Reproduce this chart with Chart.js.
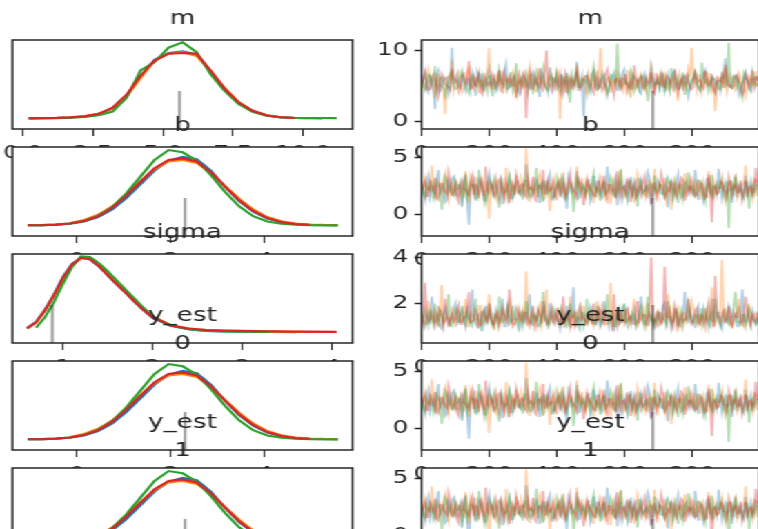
<!DOCTYPE html>
<html>
<head>
<meta charset="utf-8">
<script src="https://cdn.jsdelivr.net/npm/chart.js@4.4.0/dist/chart.umd.min.js"></script>
<style>
html,body{margin:0;padding:0;background:#fff;overflow:hidden;width:758px;height:529px;}
#stage{position:absolute;left:0;top:0;width:560px;height:529px;transform:scaleX(1.38);transform-origin:0 0;}
#stage canvas{position:absolute;}
</style>
</head>
<body>
<div id="stage"></div>
<script>
// ---------------- DATA ----------------
const panelTitles = ['m', 'b', 'sigma', ['y_est', '0'], ['y_est', '1']];

// KDE grids and densities (scaled so the tallest chain peak is 1)
const mKdeX = [0.2,0.7,1.2,1.7,2.2,2.7,3.2,3.7,4.2,4.7,5.2,5.7,6.2,6.7,7.2,7.7,8.2,8.7,9.2,9.7,10.2,10.7,11.2];
const mKdeC0 = [0,0.002,0.005,0.012,0.025,0.057,0.13,0.30,0.55,0.77,0.86,0.88,0.84,0.62,0.39,0.20,0.095,0.037,0.013,0.004,0.001,0,null];
const mKdeC1 = [0.003,0.004,0.007,0.015,0.03,0.06,0.13,0.29,0.53,0.76,0.85,0.87,0.82,0.62,0.40,0.21,0.10,0.04,0.015,0.005,0.002,null,null];
const mKdeC2 = [0,0.001,0.003,0.008,0.018,0.04,0.09,0.27,0.63,0.74,0.93,1.0,0.87,0.58,0.36,0.19,0.085,0.035,0.014,0.008,0.005,0.004,0.003];
const mKdeC3 = [0.001,0.003,0.006,0.013,0.027,0.06,0.14,0.31,0.56,0.76,0.85,0.86,0.85,0.63,0.39,0.21,0.10,0.04,0.015,0.005,null,null,null];

const bKdeX = [-1.05,-0.75,-0.45,-0.15,0.15,0.45,0.75,1.05,1.35,1.65,1.95,2.25,2.55,2.85,3.15,3.45,3.75,4.05,4.35,4.65,4.95,5.25,5.55];
const bKdeC0 = [0.001,0.003,0.008,0.022,0.05,0.11,0.21,0.36,0.54,0.72,0.85,0.90,0.87,0.72,0.51,0.32,0.18,0.09,0.04,0.016,0.006,0.002,0.001];
const bKdeC1 = [null,null,null,0.03,0.07,0.14,0.25,0.40,0.58,0.74,0.84,0.86,0.82,0.69,0.52,0.35,0.21,0.11,0.055,0.025,0.012,0.006,0.003];
const bKdeC2 = [0.001,0.003,0.009,0.024,0.058,0.125,0.24,0.42,0.64,0.86,0.99,0.96,0.85,0.66,0.44,0.25,0.12,0.05,0.02,0.007,0.002,0.001,0];
const bKdeC3 = [0.001,0.003,0.009,0.024,0.056,0.12,0.23,0.39,0.57,0.75,0.86,0.88,0.84,0.70,0.51,0.33,0.19,0.096,0.043,0.017,0.006,null,null];

const sigmaKdeX = [0.6,0.7,0.8,0.9,1.0,1.1,1.2,1.3,1.4,1.5,1.6,1.7,1.8,1.9,2.0,2.2,2.4,2.6,2.8,3.0,3.3,3.6,4.05];
const sigmaKdeC0 = [0.06,0.14,0.30,0.50,0.73,0.90,0.98,0.96,0.87,0.75,0.63,0.52,0.40,0.29,0.19,0.085,0.04,0.02,0.012,0.008,0.005,0.003,null];
const sigmaKdeC1 = [0.05,0.13,0.29,0.49,0.70,0.88,0.97,0.98,0.90,0.78,0.66,0.54,0.42,0.31,0.21,0.095,0.05,0.03,0.022,0.016,0.01,0.007,0.005];
const sigmaKdeC2 = [null,0.06,0.20,0.40,0.64,0.86,1.0,0.99,0.91,0.80,0.68,0.56,0.44,0.32,0.21,0.09,0.04,0.02,0.012,0.008,0.005,null,null];
const sigmaKdeC3 = [0.05,0.13,0.29,0.49,0.72,0.89,0.98,0.96,0.87,0.75,0.63,0.52,0.40,0.29,0.20,0.09,0.05,0.03,0.025,0.02,0.014,0.009,0.006];

// Traces, thinned: "...C#" holds draws 0,10,20,...; "...C#b" holds draws 5,15,25,...
const drawStep = 10;
const drawOffsetB = 5;
const mTraceC0 = [5.2,6.8,4.1,5.9,1.7,7.2,4.8,6.1,3.9,10.4, 5.5,5.0,6.4,4.4,5.8,6.9,3.6,5.7,6.3,4.9, 7.4,5.1,4.3,6.6,5.4,8.1,4.7,6.0,5.3,3.8, 6.7,5.6,4.6,7.0,5.9,3.4,6.2,5.0,7.6,4.5, 6.4,5.2,4.0,6.8,5.7,4.8,8.4,5.5,0.7,6.1, 4.2,7.1,5.8,4.9,6.5,3.7,5.4,6.9,4.4,5.9, 7.3,5.1,4.6,6.3,5.6,3.9,6.7,5.3,7.8,4.7, 6.0,5.2,4.1,6.6,5.8,7.0,4.5,5.5,6.2,3.5, 5.9,6.8,4.8,5.4,7.2,5.0,6.4,4.3,5.7,6.1, 8.9,4.9,5.6,6.5,3.8,5.3,6.9,4.6,5.8,6.2];
const mTraceC0b = [5.9,4.6,6.3,5.0,6.7,4.3,5.8,6.2,4.9,5.4, 6.6,4.7,5.3,6.0,4.5,5.9,6.8,5.1,4.4,6.4, 5.2,6.1,4.8,5.7,7.1,4.6,5.5,6.3,4.2,5.8, 6.0,4.9,6.5,5.3,4.7,6.9,5.4,4.1,6.2,5.6, 4.8,6.6,5.1,4.5,6.0,5.7,4.3,6.4,5.2,4.9, 6.7,5.0,4.6,6.1,5.5,4.8,6.3,5.9,4.4,6.8, 5.3,4.7,6.5,5.8,4.2,6.0,5.1,4.9,6.6,5.4, 4.5,6.2,5.7,4.8,6.9,5.2,4.6,6.4,5.0,4.7, 6.1,5.5,4.3,6.7,5.3,4.9,6.0,5.6,4.4,6.3, 5.1,4.8,6.5,5.9,4.6,6.2,5.4,4.2,6.1,5.7];
const mTraceC1 = [6.1,4.6,7.3,5.4,3.2,6.5,5.0,1.0,6.4,8.6, 5.3,6.9,4.1,5.7,7.5,4.8,6.2,3.9,5.6,6.6, 10.3,4.7,6.3,5.1,7.0,4.3,5.8,6.7,3.6,5.5, 6.4,4.9,7.7,5.2,4.2,6.1,5.6,4.5,6.8,5.0, 7.2,0.3,5.9,6.3,4.7,5.4,8.0,4.9,6.0,3.7, 5.7,6.6,4.4,10.3,5.3,6.1,4.0,5.8,6.9,4.6, 5.5,7.1,3.3,6.2,5.0,6.7,4.8,5.9,7.6,4.3, 6.4,5.1,7.0,4.5,5.6,6.3,2.9,6.0,5.4,7.3, 10.4,5.8,6.6,4.1,6.9,5.2,4.3,1.4,6.2,4.8, 7.5,5.3,6.0,4.4,6.8,5.5,3.6,6.4,5.0,7.1];
const mTraceC1b = [4.9,6.2,5.5,4.4,6.6,5.1,4.7,6.0,5.8,4.3, 6.4,5.2,4.8,6.9,5.4,4.5,6.1,5.7,4.2,6.3, 5.0,4.6,6.7,5.3,4.9,6.0,5.6,4.4,6.5,5.1, 4.7,6.2,5.8,4.3,6.8,5.4,4.9,6.1,5.2,4.6, 6.6,5.5,4.1,6.3,5.9,4.8,6.0,5.3,4.5,6.7, 5.1,4.7,6.4,5.6,4.3,6.2,5.8,4.9,6.5,5.0, 4.4,6.9,5.4,4.6,6.1,5.7,4.2,6.3,5.2,4.8, 6.6,5.5,4.5,6.0,5.9,4.3,6.7,5.1,4.7,6.2, 5.6,4.4,6.4,5.3,4.9,6.8,5.0,4.6,6.1,5.8, 4.2,6.5,5.4,4.8,6.3,5.7,4.5,6.0,5.2,4.9];
const mTraceC2 = [5.8,4.3,6.6,5.1,7.8,4.9,6.2,3.7,5.6,6.9, 4.5,5.9,7.1,5.3,3.9,6.4,5.0,6.8,4.7,5.7, 6.3,3.5,5.5,7.3,4.8,6.0,5.2,4.4,8.2,5.6, 4.9,6.5,5.4,3.8,6.9,5.1,7.4,4.6,6.1,5.3, 6.7,4.2,5.8,6.3,2.6,5.6,7.0,4.8,5.9,6.4, 5.0,7.7,4.5,6.2,5.5,3.9,6.6,5.2,11.0,4.7, 6.0,5.4,7.2,4.3,5.7,6.5,4.9,2.8,6.3,5.1, 5.9,6.8,4.4,5.3,7.5,4.6,6.1,5.6,3.7,6.4, 5.2,6.9,4.8,8.3,5.5,4.1,6.2,5.8,4.5,6.7, 5.0,11.1,4.6,6.3,5.7,3.4,6.0,5.3,7.1,4.9];
const mTraceC2b = [5.4,4.8,6.5,5.9,4.2,6.1,5.3,4.7,6.8,5.0, 4.6,6.3,5.7,4.4,6.0,5.5,4.9,6.6,5.2,4.3, 6.4,5.8,4.7,6.2,5.1,4.5,6.9,5.6,4.8,6.0, 5.3,4.2,6.7,5.9,4.6,6.1,5.0,4.4,6.5,5.7, 4.9,6.3,5.4,4.1,6.6,5.2,4.8,6.0,5.5,4.3, 6.2,5.8,4.7,6.8,5.1,4.5,6.4,5.6,4.9,6.1, 5.3,4.4,6.7,5.0,4.6,6.3,5.9,4.2,6.0,5.4, 4.8,6.5,5.7,4.3,6.2,5.1,4.9,6.9,5.5,4.6, 6.1,5.2,4.4,6.6,5.8,4.7,6.0,5.3,4.5,6.4, 5.6,4.8,6.2,5.0,4.3,6.7,5.9,4.6,6.1,5.4];
const mTraceC3 = [5.5,7.0,4.4,6.2,5.1,3.6,6.7,5.3,4.8,7.4, 5.9,4.2,6.4,5.6,8.5,4.7,5.2,6.8,3.8,6.0, 5.4,6.6,4.9,7.2,4.1,5.8,6.3,5.0,3.3,6.5, 5.7,0.4,6.9,4.6,5.3,7.5,4.4,10.0,5.1,6.1, 4.8,6.7,5.5,3.9,6.2,5.0,7.1,4.5,5.9,6.4, 5.2,4.0,6.8,5.6,4.7,7.3,5.4,3.6,6.0,5.8, 6.5,4.3,5.7,7.9,5.1,6.2,4.6,5.5,6.9,3.9, 5.3,6.6,4.8,6.1,5.0,7.4,4.2,5.9,6.3,5.4, 4.5,6.8,5.6,4.9,7.0,5.2,6.0,4.0,5.7,6.5, 8.0,5.1,4.7,6.2,5.5,3.7,6.6,5.0,7.2,5.8];
const mTraceC3b = [6.0,5.2,4.5,6.6,5.7,4.8,6.3,5.0,4.4,6.1, 5.5,4.9,6.7,5.3,4.6,6.2,5.8,4.2,6.4,5.1, 4.7,6.0,5.6,4.3,6.8,5.4,4.9,6.1,5.2,4.5, 6.5,5.9,4.6,6.3,5.0,4.8,6.9,5.3,4.4,6.0, 5.7,4.2,6.6,5.5,4.7,6.1,5.2,4.9,6.4,5.8, 4.5,6.2,5.0,4.3,6.7,5.6,4.8,6.0,5.3,4.6, 6.5,5.1,4.4,6.3,5.9,4.7,6.1,5.4,4.2,6.8, 5.2,4.9,6.4,5.7,4.5,6.0,5.5,4.3,6.6,5.0, 4.8,6.2,5.8,4.6,6.9,5.3,4.4,6.1,5.6,4.7, 6.3,5.1,4.9,6.5,5.4,4.2,6.0,5.7,4.8,6.4];

const bTraceC0 = [2.5,1.3,3.4,2.0,1.6,3.9,2.2,1.1,2.8,3.1, 1.8,2.6,0.7,3.3,-0.9,2.4,1.5,3.0,2.1,1.2, 3.6,2.3,1.7,2.9,0.9,2.0,3.2,1.4,2.7,1.9, 2.5,4.4,1.6,2.2,3.0,1.0,2.8,2.1,3.5,1.3, 2.4,1.8,3.1,0.5,2.6,2.0,3.8,1.5,2.3,2.9, 1.2,3.4,2.1,1.7,2.7,4.2,1.9,2.5,0.8,3.0, 2.2,1.4,3.3,2.6,1.6,2.9,2.0,3.7,1.1,2.4, 3.0,1.8,2.5,0.6,2.8,2.1,3.5,1.5,2.7,1.9, 2.3,3.9,1.3,2.6,2.0,3.2,1.7,2.4,4.0,1.4, 2.8,2.1,1.0,3.1,2.5,1.6,3.4,2.2,1.8,2.9];
const bTraceC0b = [2.0,2.9,1.5,2.4,3.1,1.8,2.6,1.3,2.2,3.3, 1.7,2.5,2.9,1.4,2.1,3.0,1.9,2.7,1.2,2.4, 2.8,1.6,2.3,3.2,1.9,2.6,1.4,2.0,2.9,1.7, 2.5,3.1,1.5,2.2,2.7,1.8,2.4,3.0,1.3,2.1, 2.8,1.6,2.5,3.2,1.9,2.3,1.4,2.7,2.0,3.0, 1.7,2.4,2.9,1.5,2.2,2.6,1.8,3.1,2.1,1.4, 2.7,2.3,1.6,2.9,2.0,1.9,2.5,3.2,1.5,2.2, 2.6,1.8,3.0,2.3,1.4,2.7,2.1,1.7,2.9,2.4, 1.6,2.8,2.2,1.3,3.1,2.0,2.5,1.8,2.6,2.3, 1.9,3.0,2.4,1.5,2.7,2.1,1.7,2.9,2.2,2.5];
const bTraceC1 = [1.9,3.2,2.4,4.3,1.5,2.8,2.0,3.6,1.2,2.6, 3.0,1.7,2.3,3.8,1.0,2.5,3.3,1.8,2.9,2.1, -0.4,2.7,1.4,3.1,2.2,4.1,1.6,2.5,3.4,1.9, 2.3,5.8,1.1,2.8,2.0,3.5,1.3,2.6,0.3,3.0, 2.4,1.7,3.7,2.1,2.9,1.5,4.2,2.2,1.8,3.2, 2.6,1.0,2.4,3.3,1.9,2.7,0.9,3.1,2.0,3.9, 1.6,2.8,2.3,1.2,3.5,2.5,1.8,3.0,2.1,4.0, 1.4,2.6,3.2,2.0,0.4,2.9,2.3,1.7,3.6,2.4, 1.9,3.1,2.7,1.3,2.2,3.8,1.6,2.5,2.0,3.3, 1.1,2.8,2.3,3.5,1.7,2.6,4.3,2.0,1.5,3.0];
const bTraceC1b = [2.6,1.7,2.2,2.9,1.4,2.5,3.1,1.9,2.3,1.6, 2.8,2.0,1.5,2.7,3.2,1.8,2.4,2.1,1.3,2.9, 2.2,1.7,3.0,2.5,1.6,2.3,2.8,1.9,2.1,3.1, 1.5,2.6,2.0,1.8,2.9,2.4,1.4,2.7,2.2,1.7, 3.0,2.1,1.6,2.8,2.3,1.9,2.5,3.2,1.5,2.0, 2.7,2.2,1.8,2.9,1.4,2.4,2.6,1.7,3.1,2.1, 1.9,2.5,2.3,1.5,2.8,2.0,1.6,3.0,2.4,1.8, 2.6,2.2,1.3,2.9,2.1,1.7,2.7,2.5,1.9,3.1, 2.0,1.6,2.4,2.8,1.5,2.3,3.0,1.8,2.6,2.1, 1.7,2.9,2.2,1.4,2.5,2.7,1.9,2.3,3.1,1.6];
const bTraceC2 = [2.7,1.5,2.2,3.0,1.8,2.5,0.4,3.3,2.1,1.7, 2.9,2.3,1.2,3.5,2.0,2.6,1.4,3.9,2.2,1.0, 3.1,1.9,2.5,0.6,2.8,2.1,3.4,1.6,2.4,2.0, 1.3,3.0,2.3,1.8,4.1,2.6,1.1,2.9,2.2,1.5, 3.2,2.0,2.7,1.4,2.4,0.2,3.1,1.9,2.5,2.1, 1.7,3.6,2.3,1.2,2.8,2.0,3.3,1.6,2.6,4.0, 2.2,1.3,2.9,2.4,0.7,3.0,2.1,1.8,2.7,3.4, 1.9,2.5,1.5,3.2,2.3,2.8,1.0,2.6,2.0,3.7, 2.4,1.6,3.0,2.2,1.1,2.7,3.5,1.8,2.3,2.9, 1.4,-1.2,2.6,3.3,2.0,1.7,2.8,0.5,2.5,2.1];
const bTraceC2b = [1.8,2.6,2.1,1.4,2.9,2.3,1.7,3.0,2.5,1.6, 2.2,2.8,1.9,1.5,2.7,2.4,1.3,2.9,2.0,1.8, 2.6,3.1,1.6,2.3,2.0,1.4,2.8,2.5,1.9,2.2, 3.0,1.7,2.4,2.1,1.5,2.7,2.9,1.8,2.3,1.6, 2.5,3.2,1.9,2.0,2.6,1.4,2.8,2.2,1.7,2.4, 3.0,1.5,2.1,2.7,1.8,2.3,2.9,1.6,2.0,2.5, 1.9,2.8,1.4,2.2,3.1,1.7,2.4,2.6,1.5,2.0, 2.7,1.8,2.3,2.9,1.6,2.1,2.5,1.3,2.8,2.2, 1.9,2.6,3.0,1.7,2.4,2.0,1.5,2.7,2.3,1.8, 2.9,2.1,1.6,2.5,2.2,1.4,2.8,2.0,1.7,2.6];
const bTraceC3 = [2.1,2.9,1.6,2.4,3.2,1.3,2.7,2.0,3.7,1.8, 2.5,1.1,3.0,2.2,1.7,3.4,2.6,1.4,2.8,4.2, 1.9,2.4,3.1,1.5,2.2,2.9,1.0,2.6,3.5,2.0, 2.7,1.6,2.3,3.3,1.2,2.5,3.9,1.8,2.1,2.8, 1.4,3.0,2.4,1.9,3.6,2.2,1.5,2.7,0.8,3.1, 2.3,1.7,2.9,2.0,3.4,1.3,2.6,2.2,3.8,1.6, 2.5,3.1,1.1,2.8,2.1,1.8,3.3,2.4,0.9,2.7, 2.0,3.6,1.5,2.3,2.9,1.9,2.6,3.2,1.2,2.4, 3.0,1.6,2.2,2.7,1.4,3.5,-0.7,2.5,1.9,2.8, 2.1,3.3,1.7,2.6,2.0,1.3,3.0,2.4,1.8,4.1];
const bTraceC3b = [2.4,1.6,2.8,2.1,1.5,2.7,2.3,1.8,3.0,2.0, 1.4,2.6,2.2,1.9,2.9,1.7,2.5,3.1,1.6,2.1, 2.7,1.8,2.3,2.9,1.5,2.4,2.0,1.7,2.8,2.6, 1.9,3.0,2.2,1.4,2.5,2.1,1.8,2.9,2.3,1.6, 2.7,2.0,1.5,2.8,2.4,1.9,3.1,2.2,1.7,2.5, 2.0,1.6,2.9,2.3,1.8,2.6,2.1,1.4,2.7,2.4, 1.9,3.0,2.2,1.6,2.5,2.8,1.7,2.0,2.6,1.5, 2.3,2.9,1.8,2.1,2.7,1.6,2.4,3.0,2.0,1.9, 2.5,1.7,2.8,2.2,1.5,2.6,2.3,1.8,2.9,2.1, 1.6,2.7,2.4,1.9,3.0,2.0,1.5,2.5,2.2,2.8];

const sigmaTraceC0 = [1.3,1.0,1.6,2.3,1.2,1.5,0.9,1.8,1.1,1.4, 2.0,1.2,1.7,1.0,1.3,2.6,1.1,1.5,0.8,1.9, 1.4,1.1,1.7,1.2,2.2,1.0,1.5,1.3,1.8,0.9, 1.6,1.2,2.4,1.1,1.4,1.0,1.7,1.3,2.0,1.2, 1.5,0.9,1.3,1.9,1.1,2.7,1.4,1.0,1.6,1.2, 1.8,1.1,1.4,1.0,2.1,1.3,1.6,0.8,1.5,1.2, 1.9,1.0,1.4,1.7,1.2,2.3,1.1,1.5,1.3,1.0, 1.6,1.2,2.0,1.4,0.9,1.7,1.1,1.3,2.5,1.2, 1.4,1.0,1.8,1.3,1.5,1.1,2.2,1.2,1.6,0.9, 1.3,1.9,1.1,1.5,1.0,2.6,1.2,1.4,1.7,1.1];
const sigmaTraceC0b = [1.2,1.5,1.1,1.7,1.3,1.0,1.6,1.4,1.2,1.8, 1.1,1.5,1.3,1.9,1.2,1.4,1.0,1.6,1.3,1.2, 1.7,1.1,1.4,1.5,1.0,1.8,1.2,1.3,1.6,1.1, 1.4,1.7,1.2,1.5,1.0,1.3,1.9,1.1,1.4,1.6, 1.2,1.5,1.1,1.3,1.8,1.0,1.4,1.6,1.2,1.3, 1.5,1.1,1.7,1.2,1.4,1.0,1.6,1.3,1.1,1.8, 1.2,1.5,1.3,1.0,1.7,1.4,1.1,1.6,1.2,1.5, 1.3,1.9,1.1,1.4,1.2,1.6,1.0,1.5,1.3,1.7, 1.1,1.4,1.2,1.8,1.3,1.0,1.5,1.6,1.1,1.4, 1.2,1.7,1.3,1.0,1.5,1.2,1.6,1.1,1.4,1.3];
const sigmaTraceC1 = [1.5,1.1,2.1,1.3,1.7,1.0,2.8,1.2,1.4,1.8, 1.1,1.6,1.2,2.2,1.0,1.5,1.3,1.9,1.1,1.4, 2.4,1.2,1.6,1.0,1.8,1.3,2.0,1.1,1.5,1.2, 1.7,3.4,1.2,1.4,1.0,1.9,1.3,2.6,1.1,1.5, 1.2,1.8,1.0,1.4,2.3,1.1,1.6,1.3,1.9,1.2, 1.5,1.0,2.1,1.3,1.7,1.1,2.9,1.2,1.4,1.6, 1.1,1.8,1.3,2.2,1.0,1.5,1.2,2.0,1.4,1.1, 1.7,1.2,1.5,2.4,1.1,1.3,1.9,1.0,1.6,1.4, 2.1,1.2,1.5,1.0,1.8,1.3,2.7,1.1,1.4,3.9, 1.2,1.7,1.0,1.5,2.2,1.3,1.1,1.9,1.4,1.6];
const sigmaTraceC1b = [1.3,1.1,1.6,1.2,1.5,1.8,1.1,1.4,1.0,1.7, 1.3,1.2,1.5,1.0,1.6,1.4,1.1,1.9,1.2,1.3, 1.5,1.0,1.7,1.3,1.2,1.4,1.6,1.1,1.8,1.2, 1.4,1.1,1.5,1.3,1.7,1.0,1.6,1.2,1.4,1.3, 1.8,1.1,1.5,1.2,1.0,1.6,1.3,1.4,1.1,1.7, 1.2,1.5,1.3,1.9,1.1,1.4,1.0,1.6,1.2,1.5, 1.3,1.1,1.7,1.4,1.2,1.8,1.0,1.5,1.3,1.6, 1.1,1.4,1.2,1.5,1.7,1.0,1.3,1.6,1.2,1.4, 1.8,1.1,1.5,1.3,1.2,1.6,1.0,1.4,1.7,1.2, 1.5,1.3,1.1,1.6,1.4,1.0,1.8,1.2,1.5,1.3];
const sigmaTraceC2 = [1.2,1.7,1.0,1.4,2.0,1.1,1.5,1.3,2.4,1.0, 1.6,1.2,1.9,1.1,1.4,1.0,2.2,1.3,1.5,1.2, 1.8,1.0,1.4,2.3,1.2,1.6,1.1,1.9,1.3,1.5, 1.0,2.1,1.2,1.7,1.3,1.1,2.5,1.4,1.2,1.8, 1.3,1.1,1.6,1.0,2.0,1.4,1.2,1.8,1.0,2.2, 1.4,1.2,1.7,1.1,1.5,2.4,1.3,1.0,1.6,1.2, 2.0,1.3,1.1,1.5,1.2,1.8,1.0,2.3,1.4,1.3, 1.1,1.6,1.3,2.1,1.2,1.4,1.0,1.7,1.3,2.0, 1.2,1.5,1.1,1.8,1.3,1.0,1.6,2.2,1.2,1.4, 1.7,1.1,1.4,2.5,1.2,1.5,1.0,1.8,1.3,1.1];
const sigmaTraceC2b = [1.4,1.2,1.6,1.1,1.3,1.7,1.2,1.5,1.0,1.4, 1.8,1.2,1.3,1.6,1.1,1.5,1.3,1.0,1.7,1.4, 1.2,1.5,1.1,1.6,1.3,1.9,1.2,1.4,1.0,1.6, 1.3,1.5,1.1,1.4,1.7,1.2,1.3,1.0,1.6,1.5, 1.2,1.8,1.3,1.1,1.4,1.6,1.0,1.5,1.3,1.2, 1.7,1.1,1.4,1.3,1.6,1.2,1.5,1.0,1.8,1.3, 1.2,1.4,1.6,1.1,1.5,1.3,1.7,1.2,1.0,1.4, 1.6,1.3,1.1,1.5,1.2,1.8,1.4,1.0,1.3,1.6, 1.2,1.5,1.3,1.1,1.7,1.4,1.2,1.6,1.0,1.5, 1.3,1.4,1.9,1.2,1.1,1.5,1.3,1.6,1.2,1.4];
const sigmaTraceC3 = [1.4,2.9,1.2,1.6,1.0,1.8,1.3,2.2,1.1,1.5, 1.3,1.9,1.1,1.4,2.5,1.2,1.7,1.0,1.6,1.3, 2.0,1.2,1.5,1.1,1.8,1.4,2.6,1.0,1.3,1.7, 1.2,1.6,1.0,1.9,1.3,1.5,2.1,1.1,1.4,1.2, 1.8,1.1,2.3,1.3,1.0,1.6,1.2,1.9,1.4,1.1, 1.5,2.0,1.2,1.7,1.1,1.4,1.3,2.4,1.0,1.6, 1.2,1.8,1.4,1.1,2.1,1.3,1.5,1.0,4.0,1.3, 1.6,1.1,3.6,1.4,1.2,1.9,1.0,1.5,1.3,2.2, 1.1,1.7,1.2,1.5,1.0,2.0,1.3,3.2,1.4,1.6, 1.2,1.9,1.0,1.4,1.7,1.1,2.3,1.3,1.5,1.2];
const sigmaTraceC3b = [1.1,1.6,1.3,1.4,1.2,1.7,1.0,1.5,1.3,1.2, 1.6,1.1,1.4,1.8,1.2,1.3,1.5,1.1,1.7,1.2, 1.4,1.0,1.6,1.3,1.5,1.2,1.9,1.1,1.4,1.3, 1.6,1.2,1.5,1.0,1.7,1.3,1.4,1.2,1.8,1.1, 1.3,1.5,1.2,1.6,1.4,1.0,1.7,1.3,1.2,1.5, 1.1,1.4,1.8,1.2,1.6,1.3,1.0,1.5,1.4,1.2, 1.7,1.3,1.1,1.6,1.2,1.5,1.4,1.9,1.3,1.1, 1.5,1.2,1.4,1.7,1.0,1.6,1.3,1.2,1.5,1.4, 1.2,1.8,1.1,1.4,1.6,1.3,1.0,1.5,1.2,1.7, 1.3,1.1,1.6,1.4,1.2,1.5,1.8,1.0,1.3,1.6];

// Divergent sample (draw index, and its value for each variable)
const divergenceDraw = 685;
const mDivergence = 5.59;
const bDivergence = 2.3;
const sigmaDivergence = 0.88;

// Tick values and labels
const mKdeTicks = [0, 2.5, 5, 7.5, 10];
const mKdeTickLabels = ['0.0', '2.5', '5.0', '7.5', '10.0'];
const bKdeTicks = [0, 2, 4];
const bKdeTickLabels = ['0', '2', '4'];
const sigmaKdeTicks = [1, 2, 3, 4];
const sigmaKdeTickLabels = ['1', '2', '3', '4'];
const drawTicks = [0, 200, 400, 600, 800];
const drawTickLabels = ['0', '200', '400', '600', '800'];
const mTraceTicks = [0, 10];
const bTraceTicks = [0, 5];
const sigmaTraceTicks = [2, 4];

// ---------------- LAYOUT / STYLE ----------------
const chainColors = ['#1f77b4', '#ff7f0e', '#2ca02c', '#d62728'];
const traceColors = ['rgba(31,119,180,0.35)', 'rgba(255,127,14,0.35)', 'rgba(44,160,44,0.35)', 'rgba(214,39,40,0.35)'];
const ROW_TOP0 = 40, ROW_PITCH = 107, PLOT_H = 89, TITLE_BLOCK = 60, XAXIS_H = 45;
const COLS = [
  { canvasLeft: 0, axisW: 9, plotW: 246.5, canvasW: 258 },
  { canvasLeft: 261, axisW: 44.5, plotW: 244.6, canvasW: 293 }
];
const INK = '#262626';
const FONT = "'DejaVu Sans', sans-serif";
Chart.defaults.font.family = FONT;
Chart.defaults.color = INK;

const framePlugin = {
  id: 'axesFrame',
  beforeDraw(chart) {
    const a = chart.chartArea, ctx = chart.ctx;
    ctx.save(); ctx.fillStyle = '#ffffff';
    ctx.fillRect(a.left, a.top, a.right - a.left, a.bottom - a.top);
    ctx.restore();
  },
  afterDatasetsDraw(chart) {
    const a = chart.chartArea, ctx = chart.ctx;
    ctx.save(); ctx.strokeStyle = INK; ctx.lineWidth = 1.5;
    ctx.strokeRect(a.left, a.top, a.right - a.left, a.bottom - a.top);
    ctx.restore();
  }
};

const stage = document.getElementById('stage');

function titleCfg(title) {
  const multi = Array.isArray(title);
  return {
    display: true, text: title, align: 'center', fullSize: false, color: INK,
    font: { family: FONT, size: 19, weight: 'normal', lineHeight: 1.5 },
    padding: multi ? { top: 0.65, bottom: 2.35 } : { top: 24.65, bottom: 6.85 }
  };
}

function xAxisCfg(min, max, ticks, labels) {
  return {
    type: 'linear', position: 'bottom', min, max,
    afterBuildTicks: s => { s.ticks = ticks.map(v => ({ value: v })); },
    afterFit: s => { s.height = XAXIS_H; s.paddingLeft = 0; s.paddingRight = 0; },
    ticks: { callback: (v, i) => labels[i], font: { size: 18 }, color: INK, padding: 7, maxRotation: 0, minRotation: 0, autoSkip: false },
    grid: { display: true, drawOnChartArea: false, drawTicks: true, tickLength: 7, tickWidth: 1.1, tickColor: INK },
    border: { display: false }
  };
}

function yAxisCfg(min, max, ticks, axisW) {
  const cfg = {
    type: 'linear', position: 'left', min, max,
    afterFit: s => { s.width = axisW; s.paddingTop = 0; s.paddingBottom = 0; },
    border: { display: false }
  };
  if (ticks) {
    cfg.afterBuildTicks = s => { s.ticks = ticks.map(v => ({ value: v })); };
    cfg.ticks = { font: { size: 18 }, color: INK, padding: 4.5, callback: v => String(v) };
    cfg.grid = { display: true, drawOnChartArea: false, drawTicks: true, tickLength: 5, tickWidth: 1.5, tickColor: INK };
  } else {
    cfg.ticks = { display: false };
    cfg.grid = { display: false };
  }
  return cfg;
}

function divergenceDataset(x, y) {
  return {
    order: -1,
    data: [{ x, y }], showLine: false, pointStyle: 'line', pointRotation: 90,
    pointRadius: 38, pointHoverRadius: 38, pointBorderColor: 'rgba(0,0,0,0.35)', pointBorderWidth: 2.2, clip: 0
  };
}

function makeChart(col, row, title, datasets, xCfg, yCfg) {
  const g = COLS[col];
  const axesTop = ROW_TOP0 + row * ROW_PITCH;
  const h = TITLE_BLOCK + PLOT_H + XAXIS_H;
  const cv = document.createElement('canvas');
  cv.width = g.canvasW; cv.height = h;
  cv.style.left = g.canvasLeft + 'px'; cv.style.top = (axesTop - TITLE_BLOCK) + 'px';
  cv.style.width = g.canvasW + 'px'; cv.style.height = h + 'px';
  stage.appendChild(cv);
  new Chart(cv, {
    type: 'scatter',
    data: { datasets },
    options: {
      responsive: false, animation: false, devicePixelRatio: 1,
      layout: { autoPadding: false, padding: { left: 0, top: 0, bottom: 0, right: g.canvasW - g.axisW - g.plotW } },
      scales: { x: xCfg, y: yCfg },
      plugins: { legend: { display: false }, tooltip: { enabled: false }, title: titleCfg(title) },
      events: []
    },
    plugins: [framePlugin]
  });
}

// Chart.js paints lower "order" on top; chain 3 (red) is painted last as in the reference
function kdePanel(row, title, gridX, chains, xMin, xMax, ticks, labels, divValue) {
  const yMin = -0.14, yMax = 1.03;
  const ds = chains.map((arr, c) => ({
    order: chains.length - c,
    data: gridX.map((x, i) => ({ x, y: arr[i] })),
    showLine: true, borderColor: chainColors[c], borderWidth: 2.1, pointRadius: 0, spanGaps: false, clip: 0
  }));
  ds.push(divergenceDataset(divValue, yMin));
  makeChart(0, row, title, ds, xAxisCfg(xMin, xMax, ticks, labels), yAxisCfg(yMin, yMax, null, COLS[0].axisW));
}

// merge the two thinned draw sets of one chain into draw order
function chainPoints(evenDraws, oddDraws) {
  const pts = [];
  for (let i = 0; i < evenDraws.length; i++) {
    pts.push({ x: i * drawStep, y: evenDraws[i] });
    if (i < oddDraws.length) pts.push({ x: i * drawStep + drawOffsetB, y: oddDraws[i] });
  }
  return pts;
}

function tracePanel(row, title, chains, yMin, yMax, yTicks) {
  const ds = chains.map((pair, c) => ({
    order: chains.length - c,
    data: chainPoints(pair[0], pair[1]),
    showLine: true, borderColor: traceColors[c], borderWidth: 1.7, pointRadius: 0, clip: 0
  }));
  ds.push(divergenceDataset(divergenceDraw, yMin));
  makeChart(1, row, title, ds, xAxisCfg(0, 1000, drawTicks, drawTickLabels), yAxisCfg(yMin, yMax, yTicks, COLS[1].axisW));
}

const mKde = [mKdeC0, mKdeC1, mKdeC2, mKdeC3];
const bKde = [bKdeC0, bKdeC1, bKdeC2, bKdeC3];
const sigmaKde = [sigmaKdeC0, sigmaKdeC1, sigmaKdeC2, sigmaKdeC3];
const mTrace = [[mTraceC0, mTraceC0b], [mTraceC1, mTraceC1b], [mTraceC2, mTraceC2b], [mTraceC3, mTraceC3b]];
const bTrace = [[bTraceC0, bTraceC0b], [bTraceC1, bTraceC1b], [bTraceC2, bTraceC2b], [bTraceC3, bTraceC3b]];
const sigmaTrace = [[sigmaTraceC0, sigmaTraceC0b], [sigmaTraceC1, sigmaTraceC1b], [sigmaTraceC2, sigmaTraceC2b], [sigmaTraceC3, sigmaTraceC3b]];

// Row order matches drawing order (later rows on top)
kdePanel(0, panelTitles[0], mKdeX, mKde, -0.378, 11.77, mKdeTicks, mKdeTickLabels, mDivergence);
tracePanel(0, panelTitles[0], mTrace, -1.13, 11.49, mTraceTicks);
kdePanel(1, panelTitles[1], bKdeX, bKde, -1.374, 5.865, bKdeTicks, bKdeTickLabels, bDivergence);
tracePanel(1, panelTitles[1], bTrace, -1.9, 5.92, bTraceTicks);
kdePanel(2, panelTitles[2], sigmaKdeX, sigmaKde, 0.436, 4.229, sigmaKdeTicks, sigmaKdeTickLabels, sigmaDivergence);
tracePanel(2, panelTitles[2], sigmaTrace, 0.28, 4.15, sigmaTraceTicks);
// y_est[0] and y_est[1] read identical to b in the picture
kdePanel(3, panelTitles[3], bKdeX, bKde, -1.374, 5.865, bKdeTicks, bKdeTickLabels, bDivergence);
tracePanel(3, panelTitles[3], bTrace, -1.9, 5.92, bTraceTicks);
kdePanel(4, panelTitles[4], bKdeX, bKde, -1.374, 5.865, bKdeTicks, bKdeTickLabels, bDivergence);
tracePanel(4, panelTitles[4], bTrace, -1.9, 5.92, bTraceTicks);
</script>
</body>
</html>
